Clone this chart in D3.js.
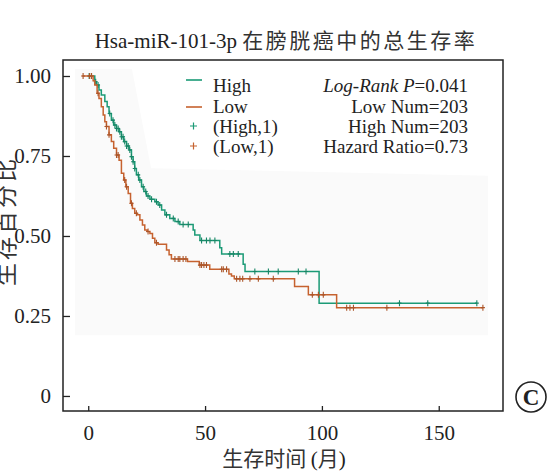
<!DOCTYPE html>
<html>
<head>
<meta charset="utf-8">
<script src="https://cdn.jsdelivr.net/npm/d3@7"></script>
<style>
  body { margin: 0; background: #fff; }
  text { fill: #222; }
  .serif { font-family: "Liberation Serif", "DejaVu Serif", serif; }
  .cjk { font-family: "Noto Sans CJK SC", sans-serif; fill: #333; }
</style>
</head>
<body>
<script>
// survival curves: [months, survival after the drop]
let high_steps = [
  [0, 1.0], [2.8, 0.982], [3.5, 0.972], [4.6, 0.956], [5.6, 0.941], [7.1, 0.92],
  [8.1, 0.904], [8.9, 0.883], [9.9, 0.862], [10.9, 0.847], [12.1, 0.836], [13.2, 0.826],
  [14.2, 0.81], [15.2, 0.795], [16.4, 0.781], [17.5, 0.769], [18.5, 0.748], [19.2, 0.732],
  [19.9, 0.711], [20.6, 0.691], [21.6, 0.675], [22.8, 0.654], [23.8, 0.639], [24.9, 0.625],
  [26.4, 0.615], [28.5, 0.607], [29.9, 0.597], [31.4, 0.581], [32.8, 0.566], [34.9, 0.555],
  [37.1, 0.545], [39.2, 0.536], [44.9, 0.519], [45.6, 0.503], [47.8, 0.486], [56.3, 0.463],
  [57.1, 0.444], [66.3, 0.412], [67.1, 0.389], [98.8, 0.29]
]
let high_end = 166.3
let high_censor = [0.4, 1.4, 3.2, 4.2, 9.2, 10.6, 11.4, 12.1, 12.8, 13.5, 14.2, 14.9, 15.6,
  16.4, 17.1, 17.8, 18.5, 19.2, 19.9, 21.4, 22.1, 23.5, 24.6, 25.6, 27.1, 29.2, 30.6, 33.5,
  36.4, 38.5, 40.6, 42.8, 48.5, 50.6, 52.1, 54.2, 60.6, 62.1, 64.2, 71.3, 77.1, 81.3, 89.9,
  93.2, 133.2, 145.3, 166.3]

let low_steps = [
  [-2.5, 1.0], [2.1, 0.985], [2.8, 0.972], [3.8, 0.946], [4.6, 0.93], [5.6, 0.904],
  [6.4, 0.878], [7.1, 0.857], [7.8, 0.842], [8.9, 0.816], [9.9, 0.795], [10.9, 0.774],
  [12.1, 0.753], [13.2, 0.737], [14.2, 0.696], [15.2, 0.675], [16.1, 0.654], [17.1, 0.633],
  [18.1, 0.602], [18.9, 0.586], [19.9, 0.571], [20.9, 0.566], [22.1, 0.55], [23.2, 0.534],
  [24.2, 0.519], [25.2, 0.514], [26.4, 0.508], [27.5, 0.493], [28.5, 0.479], [29.9, 0.474],
  [33.5, 0.456], [34.6, 0.441], [35.6, 0.428], [42.5, 0.42], [47.5, 0.409], [52.0, 0.396],
  [60.2, 0.381], [61.3, 0.375], [62.5, 0.366], [88.3, 0.342], [94.2, 0.316], [106.3, 0.276]
]
let low_end = 168.9
let low_censor = [-2.2, 0.6, 1.4, 4.2, 7.8, 8.9, 12.1, 12.8, 15.6, 16.4, 18.5, 20.6, 25.6,
  29.2, 37.1, 38.5, 39.2, 40.6, 41.8, 47.8, 48.5, 49.5, 50.6, 57.1, 57.8, 59.2, 63.5, 64.9,
  66.1, 69.2, 72.8, 79.2, 95.9, 98.5, 100.6, 110.6, 112.0, 113.5, 127.8, 168.9]

let x_ticks = [0, 50, 100, 150]
let y_ticks = [0, 0.25, 0.5, 0.75, 1]
let y_tick_labels = ['0', '0.25', '0.50', '0.75', '1.00']

let legend_names = ['High', 'Low', '(High,1)', '(Low,1)']
let stat_lines = [
  { it: 'Log-Rank P', rest: '=0.041' },
  { it: '', rest: 'Low Num=203' },
  { it: '', rest: 'High Num=203' },
  { it: '', rest: 'Hazard Ratio=0.73' }
]

// faint grey panel behind the curves (months, survival)
let panel = [[-5.6, 1.022], [18.7, 1.022], [26.9, 0.712], [171.1, 0.688], [171.1, 0.19], [-5.6, 0.19]]

let green = '#1b9a76', orange = '#c6622f'
let width = 547, height = 476
let box = { left: 63, top: 60, right: 503, bottom: 411 }

let x = d3.scaleLinear().domain([-10.8, 177.5]).range([box.left, box.right])
let y = d3.scaleLinear().domain([-0.047, 1.05]).range([box.bottom, box.top])

const svg = d3.select('body').append('svg')
    .attr('width', width)
    .attr('height', height)

svg.append('polygon')
    .attr('points', panel.map(d => [x(d[0]), y(d[1])].join(',')).join(' '))
    .attr('fill', '#fafafa')

function value_at(steps, t) {
  let v = steps[0][1]
  for (let s of steps) if (s[0] <= t) v = s[1]
  return v
}

let line = d3.line().x(d => x(d[0])).y(d => y(d[1])).curve(d3.curveStepAfter)

function draw_curve(steps, end, censor, color) {
  let pts = steps.concat([[end, steps[steps.length - 1][1]]])
  svg.append('path')
      .attr('d', line(pts))
      .attr('fill', 'none')
      .attr('stroke', color)
      .attr('stroke-width', 1.5)

  let g = svg.append('g').attr('stroke', d3.color(color).darker(0.4)).attr('stroke-width', 1.1)
  g.selectAll('path')
    .data(censor)
    .join('path')
      .attr('d', t => {
        let cx = x(t), cy = y(value_at(steps, t))
        return `M${cx},${cy - 3}V${cy + 3}M${cx - 2},${cy}H${cx + 2}`
      })
}

draw_curve(high_steps, high_end, high_censor, green)
draw_curve(low_steps, low_end, low_censor, orange)

// axes, ticks pointing inward
let yAxis = g => g
    .attr('transform', `translate(${box.left},0)`)
    .call(d3.axisLeft(y).tickValues(y_ticks).tickSize(-7).tickPadding(12)
      .tickFormat((d, i) => y_tick_labels[i]))
    .call(g => g.select('.domain').remove())

let xAxis = g => g
    .attr('transform', `translate(0,${box.bottom})`)
    .call(d3.axisBottom(x).tickValues(x_ticks).tickSize(-5).tickPadding(14))
    .call(g => g.select('.domain').remove())

svg.append('g').call(yAxis)
svg.append('g').call(xAxis)

svg.selectAll('.tick line').attr('stroke', '#222').attr('stroke-width', 1.3)
svg.selectAll('.tick text')
    .attr('class', 'serif')
    .style('font-size', '21px')
    .attr('fill', '#222')

svg.append('rect')
    .attr('x', box.left).attr('y', box.top)
    .attr('width', box.right - box.left).attr('height', box.bottom - box.top)
    .attr('fill', 'none').attr('stroke', '#222').attr('stroke-width', 1.5)

// legend
let lg = svg.append('g')
let rows = [92, 113, 133, 153]
lg.append('line').attr('x1', 186).attr('x2', 202).attr('y1', 80).attr('y2', 80)
    .attr('stroke', green).attr('stroke-width', 1.6)
lg.append('line').attr('x1', 186).attr('x2', 202).attr('y1', 107).attr('y2', 107)
    .attr('stroke', orange).attr('stroke-width', 1.6)
;[[126, green], [146, orange]].forEach(([cy, c]) => {
  lg.append('path')
      .attr('d', `M193.5,${cy - 3.5}V${cy + 3.5}M190,${cy}H197`)
      .attr('stroke', c).attr('stroke-width', 1.2)
})

lg.selectAll('text.name')
  .data(legend_names)
  .join('text')
    .attr('class', 'serif')
    .attr('x', 213)
    .attr('y', (d, i) => rows[i])
    .style('font-size', '19px')
    .text(d => d)

let st = lg.selectAll('text.stat')
  .data(stat_lines)
  .join('text')
    .attr('class', 'serif')
    .attr('x', 468)
    .attr('y', (d, i) => rows[i])
    .attr('text-anchor', 'end')
    .style('font-size', '19px')
st.append('tspan').style('font-style', 'italic').text(d => d.it)
st.append('tspan').text(d => d.rest)

// title
let title = svg.append('text')
    .attr('x', 286).attr('y', 48)
    .attr('text-anchor', 'middle')
    .style('font-size', '21px')
title.append('tspan').attr('class', 'serif').text('Hsa-miR-101-3p ')
title.append('tspan').attr('class', 'cjk').style('letter-spacing', '2.5px').text('在膀胱癌中的总生存率')

// axis titles
let xl = svg.append('text')
    .attr('x', 284).attr('y', 466)
    .attr('text-anchor', 'middle')
    .style('font-size', '21px')
xl.append('tspan').attr('class', 'cjk').text('生存时间 ')
xl.append('tspan').attr('class', 'serif').text('(')
xl.append('tspan').attr('class', 'cjk').text('月')
xl.append('tspan').attr('class', 'serif').text(')')

svg.append('text')
    .attr('class', 'cjk')
    .attr('transform', 'translate(4,221) rotate(-90)')
    .attr('text-anchor', 'middle')
    .attr('dominant-baseline', 'central')
    .style('font-size', '23px')
    .style('letter-spacing', '3px')
    .text('生存百分比')

// panel letter
svg.append('circle')
    .attr('cx', 531).attr('cy', 397).attr('r', 15)
    .attr('fill', 'none').attr('stroke', '#222').attr('stroke-width', 1.6)
svg.append('text')
    .attr('class', 'serif')
    .attr('x', 531).attr('y', 405)
    .attr('text-anchor', 'middle')
    .style('font-size', '23px')
    .style('font-weight', 'bold')
    .text('C')
</script>
</body>
</html>
